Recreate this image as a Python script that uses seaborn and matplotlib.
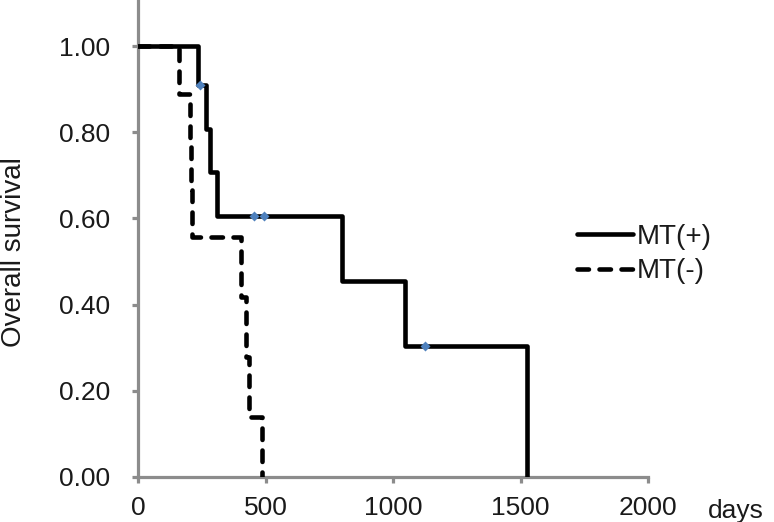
import numpy as np
import pandas as pd
import matplotlib
matplotlib.use("Agg")
import matplotlib.pyplot as plt
import seaborn as sns

# Kaplan-Meier steps
days_pos = [0, 235, 267, 282, 310, 800, 1047, 1525]
surv_pos = [1.0, 0.909, 0.808, 0.707, 0.606, 0.455, 0.303, 0.0]
days_neg = [0, 160, 204, 206, 212, 404, 424, 435, 486]
surv_neg = [1.0, 0.889, 0.778, 0.667, 0.556, 0.417, 0.278, 0.139, 0.0]

# censored cases (MT(+) only)
cens_days = [243, 455, 494, 1125]
cens_surv = [0.909, 0.606, 0.606, 0.303]

labels = ["MT(+)", "MT(-)"]
x_ticks = [0, 500, 1000, 1500, 2000]
x_ticklabels = ["0", "500", "1000", "1500", "2000"]
y_ticks = [0.0, 0.2, 0.4, 0.6, 0.8, 1.0]
y_ticklabels = ["0.00", "0.20", "0.40", "0.60", "0.80", "1.00"]

df_pos = pd.DataFrame({"days": days_pos, "surv": surv_pos})
df_neg = pd.DataFrame({"days": days_neg, "surv": surv_neg})
df_cens = pd.DataFrame({"days": cens_days, "surv": cens_surv})

sns.set_style("white")
plt.rcParams["font.family"] = ["Liberation Sans", "DejaVu Sans"]

fig = plt.figure(figsize=(7.74, 5.22), dpi=100)
ax = fig.add_axes([138 / 774, 45 / 522, 510 / 774, 477 / 522])

grey = "#8c8c8c"

sns.lineplot(data=df_neg, x="days", y="surv", ax=ax, color="black", lw=3.3,
             drawstyle="steps-post", estimator=None, sort=False,
             dashes=False, label=labels[1], zorder=2)
ax.lines[-1].set_dashes([2.5, 2.3])
ax.lines[-1].set_dash_capstyle("round")

sns.lineplot(data=df_pos, x="days", y="surv", ax=ax, color="black", lw=3.3,
             drawstyle="steps-post", estimator=None, sort=False,
             label=labels[0], zorder=3)

sns.scatterplot(data=df_cens, x="days", y="surv", ax=ax, color="#4f81bd",
                marker="D", s=26, linewidth=0, zorder=4)

ax.set_xlim(0, 2000)
ax.set_ylim(0, 1.107)
ax.set_xticks(x_ticks)
ax.set_xticklabels(x_ticklabels)
ax.set_yticks(y_ticks)
ax.set_yticklabels(y_ticklabels)
ax.set_xlabel("")
ax.set_ylabel("")

for s in ["top", "right"]:
    ax.spines[s].set_visible(False)
for s in ["left", "bottom"]:
    ax.spines[s].set_color(grey)
    ax.spines[s].set_linewidth(2.3)
    ax.spines[s].set_zorder(1)

ax.tick_params(axis="both", direction="out", length=4, width=2.3, color=grey,
               labelsize=19, labelcolor="#1a1a1a")
ax.tick_params(axis="y", pad=16)
ax.tick_params(axis="x", pad=10)
ax.tick_params(axis="both", left=True, bottom=True)

fig.text(14 / 774, 1 - 252 / 522, "Overall survival", rotation=90,
         ha="center", va="center", fontsize=20, color="#1a1a1a")
fig.text(708 / 774, 1 - 518 / 522, "days", ha="left", va="baseline",
         fontsize=19, color="#1a1a1a")

h, l = ax.get_legend_handles_labels()
order = [l.index(labels[0]), l.index(labels[1])]
leg = ax.legend([h[i] for i in order], [l[i] for i in order],
                loc="upper left", bbox_to_anchor=(577 / 774, 1 - 224 / 522),
                bbox_transform=fig.transFigure, frameon=False, fontsize=20,
                handlelength=2.0, handletextpad=0.15, labelspacing=0.3,
                borderpad=0, borderaxespad=0)
for t in leg.get_texts():
    t.set_color("#1a1a1a")

fig.savefig("out.png", dpi=100)
